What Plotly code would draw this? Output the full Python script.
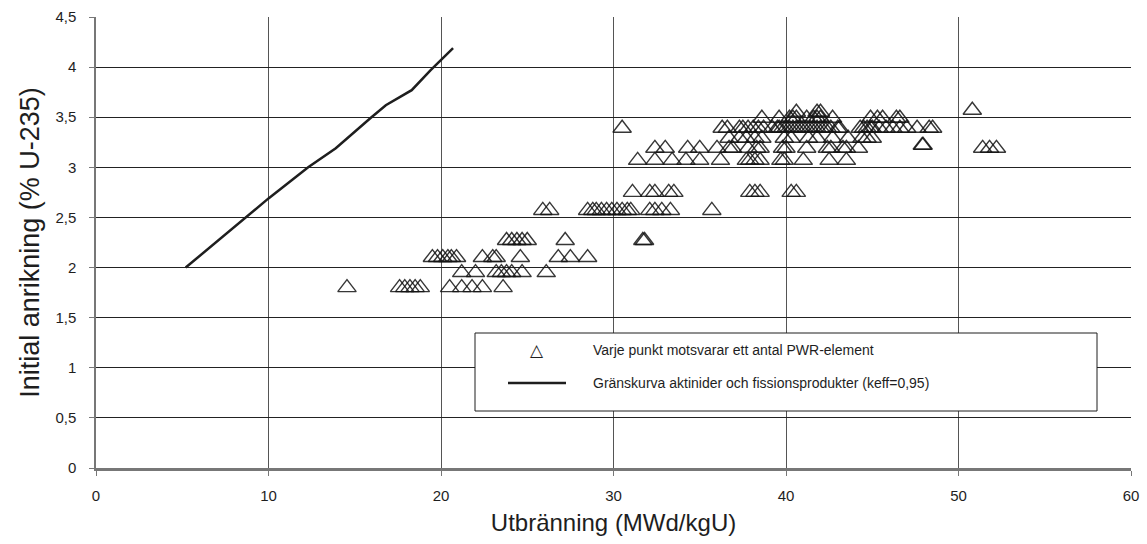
import plotly.graph_objects as go

# Limit curve (actinides + fission products, keff=0.95)
curve_burnup = [5.2, 10.0, 12.3, 13.9, 15.9, 16.8, 18.3, 19.4, 20.7]
curve_enrich = [2.0, 2.69, 3.0, 3.19, 3.49, 3.62, 3.77, 3.97, 4.19]

# PWR elements, grouped by enrichment level (burnup values)
row_180 = [14.55, 17.6, 17.9, 18.2, 18.5, 18.8, 20.5, 21.2, 21.8, 22.4, 23.6]
row_195 = [21.2, 22.0, 23.2, 23.5, 23.8, 24.1, 24.7, 26.1]
row_210 = [19.5, 19.8, 20.1, 20.4, 20.6, 20.9, 22.4, 23.0, 23.2, 24.6, 26.8, 27.5, 28.5]
row_227 = [23.8, 24.1, 24.4, 24.7, 25.0, 27.2, 31.7, 31.8]
row_257 = [25.9, 26.3, 28.5, 28.8, 29.0, 29.3, 29.6, 29.9, 30.2, 30.5, 30.8, 31.0,
           32.1, 32.4, 32.8, 33.3, 35.7]
row_275 = [31.1, 32.1, 32.4, 33.2, 33.5, 37.9, 38.2, 38.5, 40.3, 40.6]
row_307 = [31.4, 32.4, 33.4, 34.2, 35.0, 36.2, 37.7, 37.9, 38.2, 38.5, 39.7, 39.9,
           41.0, 42.5, 43.5]
row_319 = [32.4, 33.0, 34.3, 35.0, 36.0, 36.7, 36.9, 37.8, 38.3, 38.5, 39.8, 40.0,
           41.2, 42.4, 42.6, 43.3, 43.5, 44.2, 51.4, 51.8, 52.2]
row_322 = [47.9, 47.95]
row_329 = [36.7, 37.3, 37.7, 38.2, 38.6, 39.9, 40.3, 41.3, 41.8, 42.7, 43.6, 44.4,
           44.7, 45.0]
row_339 = [30.5, 36.3, 36.6, 37.3, 37.5, 37.8, 38.1, 38.4, 38.7, 39.2, 39.5, 39.6,
           39.8, 40.0, 40.2, 40.4, 40.6, 40.8, 41.0, 41.2, 41.4, 41.6, 41.8, 42.0,
           42.2, 42.4, 42.6, 43.0, 43.1, 44.3, 44.5, 44.7, 44.9, 45.0, 45.4, 45.8,
           46.2, 46.6, 47.0, 47.6, 48.3, 48.5]
row_349 = [38.6, 39.6, 40.2, 40.4, 40.6, 41.2, 41.6, 41.8, 42.0, 42.7, 44.9, 45.3,
           45.6, 46.4, 46.6]
row_355 = [40.6, 41.8, 42.0]
row_357 = [50.8]

rows = [
    (1.80, row_180), (1.95, row_195), (2.10, row_210), (2.27, row_227),
    (2.57, row_257), (2.75, row_275), (3.07, row_307), (3.19, row_319),
    (3.22, row_322), (3.29, row_329), (3.39, row_339), (3.49, row_349),
    (3.55, row_355), (3.57, row_357),
]

pwr_burnup = []
pwr_enrich = []
for level, xs in rows:
    pwr_burnup += xs
    pwr_enrich += [level] * len(xs)

x_ticks = [0, 10, 20, 30, 40, 50, 60]
y_ticks = [0, 0.5, 1, 1.5, 2, 2.5, 3, 3.5, 4, 4.5]

legend_points = "Varje punkt motsvarar ett antal PWR-element"
legend_curve = "Gränskurva aktinider och fissionsprodukter (keff=0,95)"

FONT = "Liberation Sans, Arial, sans-serif"
INK = "#1e1e1e"

# plot-area geometry (pixels) used to place the hand-drawn legend box
L, R, T, B = 96, 1131, 17, 468
def px(xp):
    return (xp - L) / (R - L)
def py(yp):
    return (B - yp) / (B - T)

fig = go.Figure()
fig.add_trace(go.Scatter(
    x=pwr_burnup, y=pwr_enrich, mode="markers", name=legend_points,
    showlegend=False,
    marker=dict(symbol="triangle-up-open", size=16,
                color="rgba(20,20,20,0.85)", line=dict(width=1.4)),
))
fig.add_trace(go.Scatter(
    x=curve_burnup, y=curve_enrich, mode="lines", name=legend_curve,
    showlegend=False,
    line=dict(color=INK, width=2.5),
))

shapes = [
    dict(type="rect", xref="paper", yref="paper",
         x0=px(475), x1=px(1097), y0=py(411), y1=py(333),
         line=dict(color=INK, width=1), fillcolor="white", layer="above"),
    dict(type="line", xref="paper", yref="paper",
         x0=px(508), x1=px(566), y0=py(383), y1=py(383),
         line=dict(color=INK, width=2.5), layer="above"),
]
annotations = [
    dict(xref="paper", yref="paper", x=px(537), y=py(350), text="△",
         showarrow=False, xanchor="center", yanchor="middle",
         font=dict(family="DejaVu Sans", size=17, color=INK)),
    dict(xref="paper", yref="paper", x=px(591), y=py(350), text=legend_points,
         showarrow=False, xanchor="left", yanchor="middle",
         font=dict(family=FONT, size=14, color=INK)),
    dict(xref="paper", yref="paper", x=px(591), y=py(383), text=legend_curve,
         showarrow=False, xanchor="left", yanchor="middle",
         font=dict(family=FONT, size=14, color=INK)),
]

fig.update_layout(
    width=1147, height=544,
    margin=dict(l=L, r=1147 - R, t=T, b=544 - B),
    paper_bgcolor="white", plot_bgcolor="white",
    separators=", ",
    font=dict(family=FONT, size=15, color=INK),
    showlegend=False,
    shapes=shapes, annotations=annotations,
    xaxis=dict(
        range=[0, 60], tickvals=x_ticks, ticktext=[str(v) for v in x_ticks],
        tickfont=dict(family=FONT, size=15, color=INK),
        showgrid=True, gridcolor="#555", gridwidth=1,
        showline=True, linecolor="#777", linewidth=2.5,
        ticks="outside", ticklen=5, tickcolor="#777",
        ticklabelstandoff=7, zeroline=False,
        title=dict(text="Utbränning (MWd/kgU)", font=dict(size=24, family=FONT),
                   standoff=12),
        automargin=False,
    ),
    yaxis=dict(
        range=[0, 4.5], tickvals=y_ticks,
        tickformat=".1~f",
        tickfont=dict(family=FONT, size=15, color=INK),
        showgrid=True, gridcolor="#222", gridwidth=1,
        showline=True, linecolor="#777", linewidth=1.5,
        ticks="outside", ticklen=5, tickcolor="#777",
        ticklabelstandoff=10, zeroline=False,
        title=dict(text="Initial anrikning (% U-235)", font=dict(size=27, family=FONT),
                   standoff=8),
        automargin=False,
    ),
)

fig.write_html("out.html")
